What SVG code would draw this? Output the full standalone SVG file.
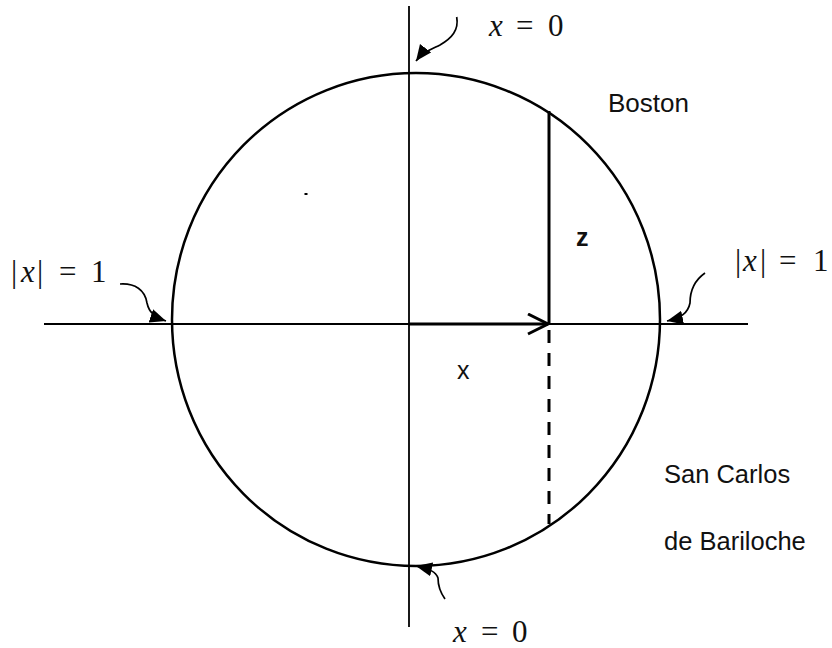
<svg xmlns="http://www.w3.org/2000/svg" width="832" height="648" viewBox="0 0 832 648">
<defs>
<marker id="tri" markerUnits="userSpaceOnUse" markerWidth="18" markerHeight="16" refX="16" refY="7" orient="auto">
<path d="M0,0 L16,7 L0,14 z" fill="#000"/>
</marker>
<marker id="chev" markerUnits="userSpaceOnUse" markerWidth="26" markerHeight="26" refX="21" refY="11" orient="auto">
<path d="M1,1 L21,11 L1,21" fill="none" stroke="#000" stroke-width="3"/>
</marker>
</defs>
<style>
.thin{stroke:#000;stroke-width:1.8;fill:none}
.curl{stroke:#000;stroke-width:1.7;fill:none}
.math{font-family:"Liberation Serif",serif;font-size:31px;fill:#111}
.mi{font-style:italic}
.lbl{font-family:"Liberation Sans",Arial,sans-serif;fill:#111}
</style>
<rect width="832" height="648" fill="#fff"/>
<g id="circle">
<ellipse cx="416" cy="319.5" rx="244" ry="246.5" fill="none" stroke="#000" stroke-width="2.5"/>
</g>
<g id="axes">
<line class="thin" x1="409" y1="6" x2="409" y2="627"/>
<line class="thin" x1="44" y1="324" x2="748" y2="324"/>
</g>
<g id="connectors">
<line x1="409" y1="324" x2="548" y2="324" stroke="#000" stroke-width="3" marker-end="url(#chev)"/>
<line x1="549" y1="111" x2="549" y2="324" stroke="#000" stroke-width="3"/>
<line x1="549" y1="324" x2="549" y2="524" stroke="#000" stroke-width="3" stroke-dasharray="13 10" stroke-dashoffset="-6"/>
<path class="curl" d="M456.7,17 C459,30 452,38 440,45 C430,50 422,53 416,61" marker-end="url(#tri)"/>
<path class="curl" d="M120,284 C135,283 145,290 147,303 C149,312 154,317 166,321" marker-end="url(#tri)"/>
<path class="curl" d="M705,273 C695,280 690,290 690,303 C688,313 681,318 667,321" marker-end="url(#tri)"/>
<path class="curl" d="M445,599 C440,592 438,585 438,578 C436,572 430,569 416,566" marker-end="url(#tri)"/>
</g>
<rect x="304.5" y="193" width="3" height="2" fill="#000"/>
<g id="label-top">
<text class="math" y="36"><tspan class="mi" x="489">x</tspan><tspan x="516">=</tspan><tspan x="548">0</tspan></text>
</g>
<g id="label-bottom">
<text class="math" y="642"><tspan class="mi" x="453">x</tspan><tspan x="481">=</tspan><tspan x="512">0</tspan></text>
</g>
<g id="label-left">
<text class="math" y="282"><tspan x="11">|</tspan><tspan class="mi" x="21">x</tspan><tspan x="37">|</tspan><tspan x="59">=</tspan><tspan x="91">1</tspan></text>
</g>
<g id="label-right">
<text class="math" y="271"><tspan x="735">|</tspan><tspan class="mi" x="743">x</tspan><tspan x="760">|</tspan><tspan x="779">=</tspan><tspan x="813">1</tspan></text>
</g>
<g id="boston"><text class="lbl" x="608" y="112" font-size="26">Boston</text></g>
<g id="bariloche">
<text class="lbl" x="664" y="483" font-size="25.5">San Carlos</text>
<text class="lbl" x="664" y="550" font-size="25.5">de Bariloche</text>
</g>
<g id="z-label"><text class="lbl" x="576" y="246" font-size="25" font-weight="bold">z</text></g>
<g id="x-label"><text class="lbl" x="457" y="379" font-size="25">x</text></g>
</svg>
